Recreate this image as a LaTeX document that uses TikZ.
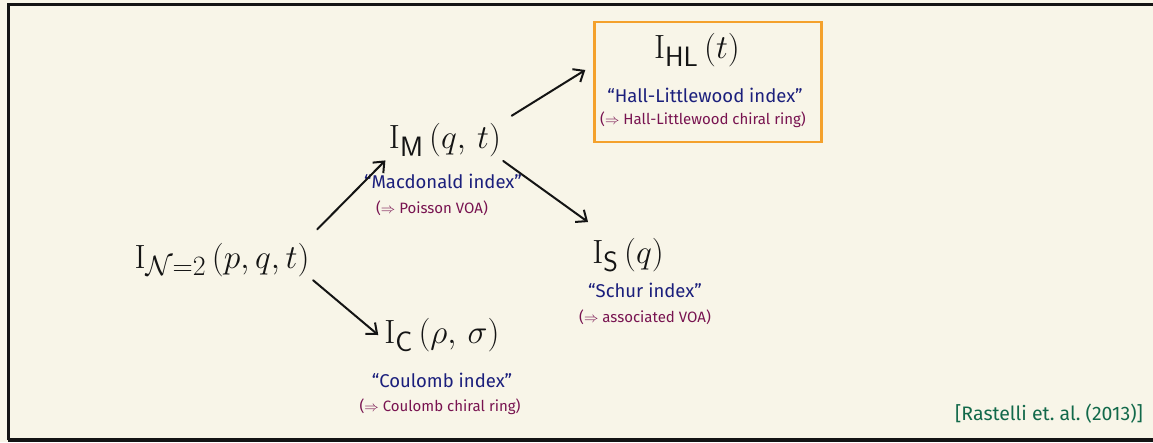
\documentclass[tikz,border=0pt]{standalone}
\usepackage[no-math]{fontspec}
\setmainfont{Fira Sans}
\usepackage{amsmath}
\usetikzlibrary{arrows.meta,positioning}
\definecolor{ixPaper}{HTML}{F8F5E8}
\definecolor{ixInk}{HTML}{141414}
\definecolor{ixName}{HTML}{1B1F7C}
\definecolor{ixCons}{HTML}{781350}
\definecolor{ixBox}{HTML}{F4A12C}
\definecolor{ixRef}{HTML}{12694A}
\newcommand{\bigidx}[1]{\scalebox{1.35}{$#1$}}
\tikzset{
  idx/.style={inner sep=2pt,text=ixInk,
    font=\fontsize{24.88}{28}\selectfont},
  idxname/.style={inner sep=1pt,text=ixName,
    font=\fontsize{18.5}{20}\selectfont},
  idxcons/.style={inner sep=1pt,text=ixCons,
    font=\fontsize{15}{17}\selectfont},
  hlframe/.style={rectangle,draw=ixBox,line width=2.4pt,
    minimum width=227pt,minimum height=120pt},
  arr/.style={-{Straight Barb[length=9pt,width=15pt,line width=2pt]},
    line width=2pt,line cap=round,color=ixInk},
  citelbl/.style={text=ixRef,font=\fontsize{19.5}{22}\selectfont},
}
\begin{document}
\begin{tikzpicture}[x=1pt,y=-1pt]
  \useasboundingbox (0,0) rectangle (1153,442);
  \fill[ixPaper] (0,0) rectangle (1153,442);
  \draw[line width=3pt,color=ixInk] (8,440) -- (8,4) -- (1160,4);
  \draw[line width=4pt,color=ixInk] (8,440) -- (1160,440);

  % Hall-Littlewood corner
  \node[hlframe] (hlbox) at (708,82) {};
  \node[idx] (hl) at (697,50) {\bigidx{\mathrm{I}_{\mathsf{HL}}\,(t)}};
  \node[idxname,below=18pt of hl,xshift=8pt] (hlname)
    {``Hall-Littlewood index''};
  \node[idxcons,below=7pt of hlname,xshift=-2pt] (hlcons)
    {($\Rightarrow$ Hall-Littlewood chiral ring)};

  % Macdonald
  \node[idx] (mac) at (445,140) {\bigidx{\mathrm{I}_{\mathsf{M}}\,(q,\,t)}};
  \node[idxname,below=14pt of mac,xshift=-2pt] (macname)
    {``Macdonald index''};
  \node[idxcons,below=10pt of macname,xshift=-11pt] (maccons)
    {($\Rightarrow$ Poisson VOA)};

  % full index
  \node[idx] (full) at (222,260)
    {\bigidx{\mathrm{I}_{\mathcal{N}=2}\,(p,q,t)}};

  % Schur
  \node[idx] (schur) at (628,255) {\bigidx{\mathrm{I}_{\mathsf{S}}\,(q)}};
  \node[idxname,below=8pt of schur,xshift=17pt] (schurname)
    {``Schur index''};
  \node[idxcons,below=10pt of schurname] (schurcons)
    {($\Rightarrow$ associated VOA)};

  % Coulomb
  \node[idx] (coul) at (442,335)
    {\bigidx{\mathrm{I}_{\mathsf{C}}\,(\rho,\,\sigma)}};
  \node[idxname,below=18pt of coul] (coulname) {``Coulomb index''};
  \node[idxcons,below=9pt of coulname,xshift=-2pt] (coulcons)
    {($\Rightarrow$ Coulomb chiral ring)};

  \draw[arr,shorten <=8pt,shorten >=2pt] ([yshift=6pt]full.north east) -- (mac.south west);
  \draw[arr,shorten <=2pt] (full.south east) -- ([xshift=-4pt]coul.west);
  \draw[arr,shorten <=10pt] (mac.north east) -- ([yshift=12pt,xshift=-8pt]hlbox.west);
  \draw[arr] ([yshift=-2pt]mac.south east) -- ([yshift=14pt,xshift=-2pt]schur.north west);

  \node[citelbl] (cite) at (1049,414) {[Rastelli et.\ al.\ (2013)]};
\end{tikzpicture}
\end{document}
